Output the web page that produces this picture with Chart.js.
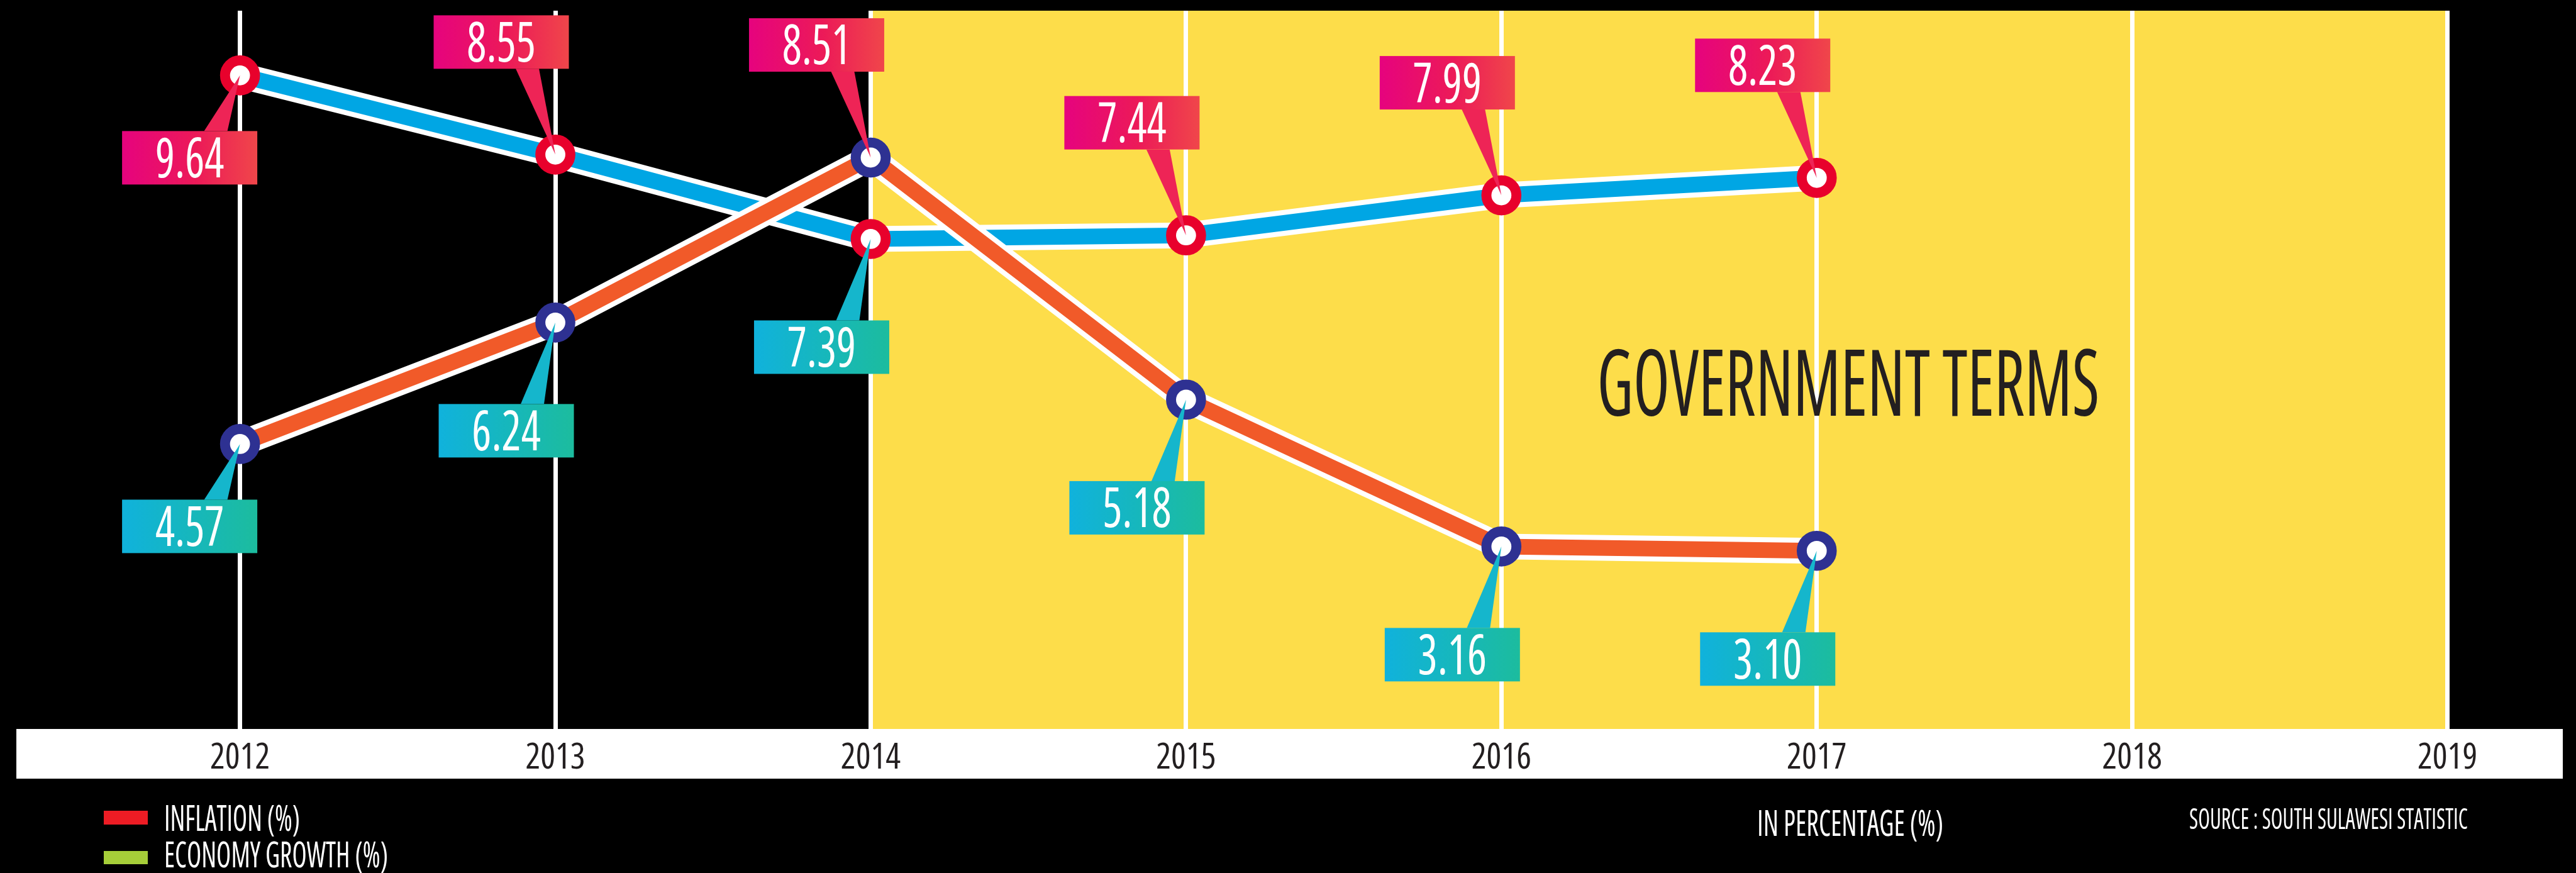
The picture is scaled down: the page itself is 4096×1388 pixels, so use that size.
<!DOCTYPE html>
<html>
<head>
<title>Inflation and Economy Growth</title>
<script src="https://cdn.jsdelivr.net/npm/chart.js"></script>
<style>
  html, body { margin: 0; padding: 0; background: #000; }
  #wrap { width: 4096px; height: 1388px; }
</style>
</head>
<body>
<div id="wrap"><canvas id="chart"></canvas></div>
<script>
// data
const years = ['2012', '2013', '2014', '2015', '2016', '2017', '2018', '2019'];
const inflation = [9.64, 8.55, 7.39, 7.44, 7.99, 8.23];
const growth = [4.57, 6.24, 8.51, 5.18, 3.16, 3.10];
const seriesNames = ['INFLATION (%)', 'ECONOMY GROWTH (%)'];
const termFrom = '2014', termTo = '2019';

// where each value box sits relative to its point
const inflationPlace = ['near', 'up', 'down', 'up', 'up', 'up'];
const growthPlace = ['near', 'down', 'up', 'down', 'down', 'down'];

const BLUE = '#00A6E4', ORANGE = '#F15A29', RED = '#E8012C', NAVY = '#2E3192';
const YELLOW = '#FDDD4A', INK = '#231F20';
// Open Sans is a variable font here, "condensed" gives its 75% width
const FAMILY = '"Open Sans", "DejaVu Sans Condensed", sans-serif';
const cond = size => 'condensed ' + size + 'px ' + FAMILY;

// squeeze text horizontally so it fits a given width
function fitText(ctx, text, x, y, size, width, align, color) {
  ctx.save();
  ctx.font = cond(size);
  ctx.fillStyle = color;
  ctx.textBaseline = 'alphabetic';
  ctx.textAlign = 'left';
  const k = width / ctx.measureText(text).width;
  let left = x;
  if (align === 'center') left = x - width / 2;
  if (align === 'right') left = x - width;
  ctx.translate(left, y);
  ctx.scale(k, 1);
  ctx.fillText(text, 0, 0);
  ctx.restore();
}

function squeezeText(ctx, text, cx, y, size, k, color) {
  ctx.save();
  ctx.font = cond(size);
  ctx.fillStyle = color;
  ctx.textBaseline = 'alphabetic';
  ctx.textAlign = 'left';
  const w = ctx.measureText(text).width * k;
  ctx.translate(cx - w / 2, y);
  ctx.scale(k, 1);
  ctx.fillText(text, 0, 0);
  ctx.restore();
}

const BOX_W = 215, BOX_H = 85;
const offsets = { up: [-86, -179], down: [-78, 172], near: [-80, 131] };

function drawCallout(ctx, pt, value, where, pink) {
  const [dx, dy] = offsets[where];
  const cx = pt.x + dx, cy = pt.y + dy;
  const left = cx - BOX_W / 2, top = cy - BOX_H / 2;
  const edge = dy < 0 ? top + BOX_H : top;
  ctx.save();
  ctx.fillStyle = pink ? '#EE2456' : '#15B6CC';
  ctx.beginPath();
  ctx.moveTo(cx + 23, edge);
  ctx.lineTo(cx + 60, edge);
  ctx.lineTo(pt.x, pt.y);
  ctx.closePath();
  ctx.fill();
  const g = ctx.createLinearGradient(left, 0, left + BOX_W, 0);
  if (pink) {
    g.addColorStop(0, '#E6037E');
    g.addColorStop(0.55, '#EC1A58');
    g.addColorStop(1, '#F0464A');
  } else {
    g.addColorStop(0, '#10B2DC');
    g.addColorStop(1, '#1CBC9E');
  }
  ctx.fillStyle = g;
  ctx.fillRect(left, top, BOX_W, BOX_H);
  ctx.restore();
  squeezeText(ctx, value.toFixed(2), cx, cy + 31, 87, 0.84, '#FFFFFF');
}

const decor = {
  id: 'decor',
  beforeDraw(chart) {
    const ctx = chart.ctx, a = chart.chartArea, x = chart.scales.x;
    ctx.save();
    ctx.fillStyle = '#000';
    ctx.fillRect(0, 0, chart.width, chart.height);
    ctx.fillStyle = YELLOW;
    const x0 = x.getPixelForValue(years.indexOf(termFrom));
    const x1 = x.getPixelForValue(years.indexOf(termTo));
    ctx.fillRect(x0, a.top, x1 - x0, a.bottom - a.top + 3);
    ctx.fillStyle = '#FFFFFF';
    ctx.fillRect(26, x.top, chart.width - 47, x.bottom - x.top);
    ctx.restore();
  },
  afterDatasetsDraw(chart) {
    const ctx = chart.ctx;
    const inf = chart.getDatasetMeta(0).data, gr = chart.getDatasetMeta(2).data;
    inflation.forEach((v, i) => drawCallout(ctx, inf[i], v, inflationPlace[i], v >= growth[i]));
    growth.forEach((v, i) => drawCallout(ctx, gr[i], v, growthPlace[i], v > inflation[i]));
  },
  afterDraw(chart) {
    const ctx = chart.ctx, a = chart.chartArea, x = chart.scales.x;
    const step = x.getPixelForValue(1) - x.getPixelForValue(0);
    fitText(ctx, 'GOVERNMENT TERMS', x.getPixelForValue(5) + 0.1 * step,
      a.top + 0.564 * (a.bottom - a.top), 147, 799, 'center', INK);

    // legend
    ctx.fillStyle = '#ED1C24';
    ctx.fillRect(165, 1289, 70, 22);
    ctx.fillStyle = '#A6CE39';
    ctx.fillRect(165, 1353, 70, 21);
    fitText(ctx, seriesNames[0], 261, 1321, 57, 216, 'left', '#FFFFFF');
    fitText(ctx, seriesNames[1], 261, 1379, 57, 356, 'left', '#FFFFFF');

    fitText(ctx, 'IN PERCENTAGE (%)', 2794, 1329, 57, 296, 'left', '#FFFFFF');
    fitText(ctx, 'SOURCE : SOUTH SULAWESI STATISTIC', 3481, 1318, 45, 443, 'left', '#FFFFFF');
  }
};

new Chart(document.getElementById('chart'), {
  type: 'line',
  data: {
    labels: years,
    datasets: [
      {
        label: seriesNames[0], data: inflation, order: 3,
        borderColor: BLUE, borderWidth: 25, borderJoinStyle: 'round',
        pointRadius: 23.85, pointBorderWidth: 15.9,
        pointBackgroundColor: '#FFFFFF', pointBorderColor: RED
      },
      { label: 'inflation outline', data: inflation, order: 4, borderColor: '#FFFFFF', borderWidth: 41, borderJoinStyle: 'round', pointRadius: 0 },
      {
        label: seriesNames[1], data: growth, order: 1,
        borderColor: ORANGE, borderWidth: 25, borderJoinStyle: 'round',
        pointRadius: 23.85, pointBorderWidth: 15.9,
        pointBackgroundColor: '#FFFFFF', pointBorderColor: NAVY
      },
      { label: 'growth outline', data: growth, order: 2, borderColor: '#FFFFFF', borderWidth: 41, borderJoinStyle: 'round', pointRadius: 0 }
    ]
  },
  options: {
    responsive: true,
    maintainAspectRatio: false,
    devicePixelRatio: 1,
    animation: false,
    events: [],
    layout: { autoPadding: false, padding: { left: 381.6, right: 204.4, top: 17, bottom: 150 } },
    plugins: { legend: { display: false }, tooltip: { enabled: false } },
    scales: {
      x: {
        offset: false,
        grid: { color: '#FFFFFF', lineWidth: 7, drawTicks: false },
        border: { display: false },
        // weight string carries the font-stretch keyword into the canvas font
        ticks: { color: INK, padding: 13, font: { family: FAMILY, size: 56, weight: '400 condensed' } },
        afterFit(axis) { axis.height = 79; }
      },
      y: { display: false, min: 0.65, max: 10.53 }
    }
  },
  plugins: [decor]
});
</script>
</body>
</html>
